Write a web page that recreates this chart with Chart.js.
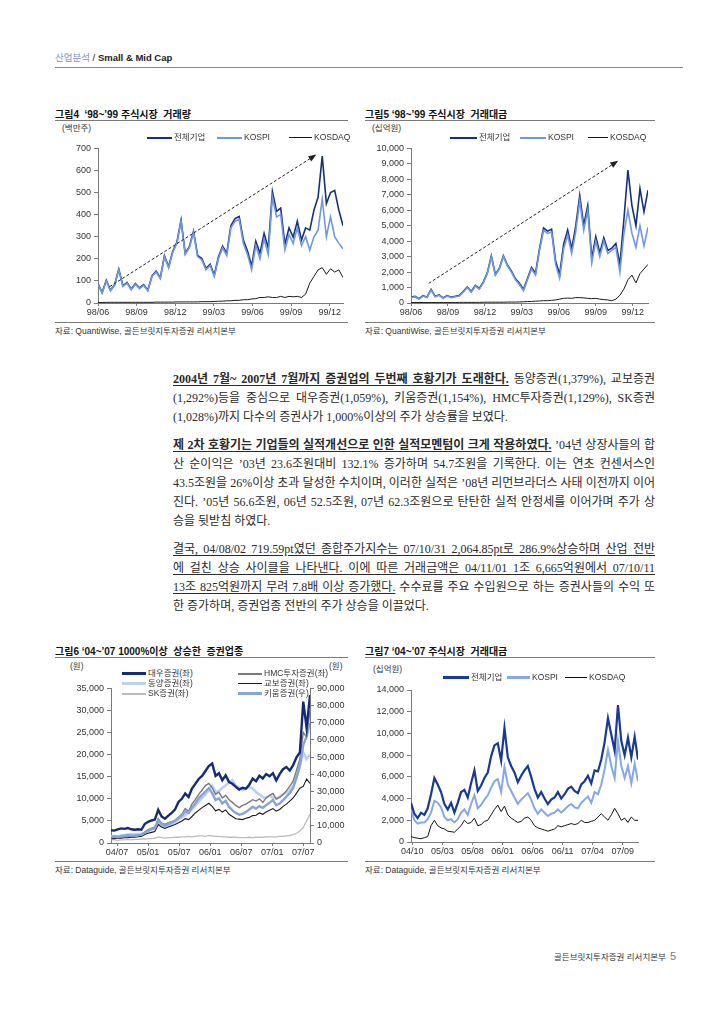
<!DOCTYPE html>
<html lang="ko">
<head>
<meta charset="utf-8">
<title>증권업종 호황기</title>
<script src="https://cdn.jsdelivr.net/npm/chart.js@4.4.1/dist/chart.umd.min.js"></script>
<style>
  body { margin:0; width:720px; height:1017px; position:relative; background:#fff; color:#222;
         font-family:"Liberation Sans", Arial, "Noto Sans CJK KR", sans-serif; overflow:hidden; }
  .abs { position:absolute; white-space:nowrap; }
  .hdr { left:55px; top:50px; font-size:9.5px; }
  .hdr .k { color:#8194c4; font-family:"Noto Sans CJK KR"; }
  .hdr .e { font-weight:bold; color:#222; }
  .rule { position:absolute; height:0; border-top:1px solid #7a7a7a; }
  .ttl { font-family:"Liberation Sans","Noto Sans CJK KR"; font-weight:bold; font-size:10px; color:#111; }
  .unit, .src, .lg { font-family:"Liberation Sans","Noto Sans CJK KR"; font-size:8.5px; color:#333; line-height:10px; }
  .lg i { display:inline-block; vertical-align:middle; margin-right:2px; }
  .body { position:absolute; left:173px; width:482px; font-family:"Liberation Serif","Noto Sans CJK KR",serif;
          font-size:12px; line-height:19px; color:#2a2a2a; }
  .body div { text-align:justify; text-align-last:justify; height:19px; overflow:visible; }
  .body div.end { text-align-last:left; }
  .body u { text-underline-offset:2px; }
  canvas { position:absolute; }
  .foot { right:44px; top:950px; font-family:"Noto Sans CJK KR"; font-size:8.5px; color:#333; }
  .foot span { font-family:"Liberation Sans"; font-size:11px; color:#777; margin-left:4px; }
</style>
</head>
<body>

<div class="abs hdr"><span class="k">산업분석</span> / <span class="e">Small &amp; Mid Cap</span></div>
<div class="rule" style="left:55px;top:67px;width:628px;border-top:1.5px solid #888"></div>

<!-- 그림4 / 그림5 -->
<div class="abs ttl" style="left:55px;top:106px">그림4 &nbsp;‘98~’99 주식시장 &nbsp;거래량</div>
<div class="rule" style="left:55px;top:120px;width:293px"></div>
<div class="abs unit" style="left:62px;top:123px">(백만주)</div>
<div class="abs ttl" style="left:365px;top:106px">그림5 ‘98~’99 주식시장 &nbsp;거래대금</div>
<div class="rule" style="left:365px;top:120px;width:290px"></div>
<div class="abs unit" style="left:372px;top:123px">(십억원)</div>

<canvas id="fig4" width="300" height="180" style="left:55px;top:140px"></canvas>
<canvas id="fig5" width="300" height="180" style="left:365px;top:140px"></canvas>
<div id="lg4"></div><div id="lg5"></div>

<div class="rule" style="left:55px;top:322px;width:293px"></div>
<div class="abs src" style="left:55px;top:326px">자료: QuantiWise, 골든브릿지투자증권 리서치본부</div>
<div class="rule" style="left:365px;top:322px;width:290px"></div>
<div class="abs src" style="left:365px;top:326px">자료: QuantiWise, 골든브릿지투자증권 리서치본부</div>

<!-- 본문 -->
<div class="body" style="top:370px">
  <div><u><b>2004년 7월~ 2007년 7월까지 증권업의 두번째 호황기가 도래한다.</b></u> 동양증권(1,379%), 교보증권</div>
  <div>(1,292%)등을 중심으로 대우증권(1,059%), 키움증권(1,154%), HMC투자증권(1,129%), SK증권</div>
  <div class="end">(1,028%)까지 다수의 증권사가 1,000%이상의 주가 상승률을 보였다.</div>
</div>
<div class="body" style="top:436px">
  <div><u><b>제 2차 호황기는 기업들의 실적개선으로 인한 실적모멘텀이 크게 작용하였다.</b></u> ’04년 상장사들의 합</div>
  <div>산 순이익은 ’03년 23.6조원대비 132.1% 증가하며 54.7조원을 기록한다. 이는 연초 컨센서스인</div>
  <div>43.5조원을 26%이상 초과 달성한 수치이며, 이러한 실적은 ’08년 리먼브라더스 사태 이전까지 이어</div>
  <div>진다. ’05년 56.6조원, 06년 52.5조원, 07년 62.3조원으로 탄탄한 실적 안정세를 이어가며 주가 상</div>
  <div class="end">승을 뒷받침 하였다.</div>
</div>
<div class="body" style="top:540px">
  <div><u>결국, 04/08/02 719.59pt였던 종합주가지수는 07/10/31 2,064.85pt로 286.9%상승하며 산업 전반</u></div>
  <div><u>에 걸친 상승 사이클을 나타낸다. 이에 따른 거래금액은 04/11/01 1조 6,665억원에서 07/10/11</u></div>
  <div><u>13조 825억원까지 무려 7.8배 이상 증가했다.</u> 수수료를 주요 수입원으로 하는 증권사들의 수익 또</div>
  <div class="end">한 증가하며, 증권업종 전반의 주가 상승을 이끌었다.</div>
</div>

<!-- 그림6 / 그림7 -->
<div class="abs ttl" style="left:55px;top:643px">그림6 ‘04~’07 1000%이상 &nbsp;상승한 &nbsp;증권업종</div>
<div class="rule" style="left:55px;top:657px;width:293px"></div>
<div class="abs unit" style="left:70px;top:661px">(원)</div>
<div class="abs unit" style="left:329px;top:661px">(원)</div>
<div class="abs ttl" style="left:365px;top:643px">그림7 ‘04~’07 주식시장 &nbsp;거래대금</div>
<div class="rule" style="left:365px;top:657px;width:290px"></div>
<div class="abs unit" style="left:373px;top:664px">(십억원)</div>

<canvas id="fig6" width="300" height="180" style="left:55px;top:680px"></canvas>
<canvas id="fig7" width="300" height="180" style="left:365px;top:680px"></canvas>
<div id="lg6"></div><div id="lg7"></div>

<div class="rule" style="left:55px;top:861px;width:293px"></div>
<div class="abs src" style="left:55px;top:865px">자료: Dataguide, 골든브릿지투자증권 리서치본부</div>
<div class="rule" style="left:365px;top:861px;width:290px"></div>
<div class="abs src" style="left:365px;top:865px">자료: Dataguide, 골든브릿지투자증권 리서치본부</div>

<div class="abs foot">골든브릿지투자증권 리서치본부<span>5</span></div>

<script>
// ---- 그림4: '98~'99 거래량 (백만주) ----
const fig4Names = ['전체기업', 'KOSPI', 'KOSDAQ'];
const fig4Total = [87,47,103,58,83,153,78,93,63,88,68,83,58,123,144,114,214,164,234,275,375,225,255,325,215,201,156,176,127,208,
                   258,225,350,382,392,285,235,168,280,225,315,248,505,415,430,265,340,298,370,285,340,330,420,480,665,450,500,510,420,350];
const fig4Kospi = [85,45,100,55,80,150,75,90,60,85,65,80,55,120,140,110,210,160,230,270,370,220,250,320,210,195,150,170,120,200,
                   250,215,340,370,380,270,220,150,260,200,290,220,480,390,400,240,310,270,340,260,300,240,300,330,470,300,390,300,270,245];
const fig4Kosdaq = [2,2,3,3,3,3,3,3,3,3,3,3,3,3,4,4,4,4,4,5,5,5,5,5,5,6,
                    6,6,7,8,8,10,10,12,12,15,15,18,20,25,25,28,25,25,30,25,30,28,30,25,40,90,120,150,160,130,155,140,150,115];
const fig4TickPos = [0, 9.3, 18.6, 27.9, 37.2, 46.5, 55.8];
const fig4TickLabels = ['98/06', '98/09', '98/12', '99/03', '99/06', '99/09', '99/12'];
const fig4Arrow = [[2.8, 74], [52.6, 672]];

// ---- 그림5: '98~'99 거래대금 (십억원) ----
const fig5Names = ['전체기업', 'KOSPI', 'KOSDAQ'];
const fig5Total = [380,430,280,480,380,880,430,530,330,480,380,430,490,740,1040,740,1140,940,1350,1950,3050,1850,2250,3050,2460,2060,1560,1270,880,1590,
                   2300,1920,3530,4850,4650,4770,2700,1850,3800,4720,3500,4950,6950,5030,6300,2880,4300,3250,4220,3400,3550,3850,2500,5400,8600,6300,5000,7400,5900,7300];
const fig5Kospi = [350,400,250,450,350,850,400,500,300,450,350,400,450,700,1000,700,1100,900,1300,1900,3000,1800,2200,3000,2400,2000,1500,1200,800,1500,
                   2200,1800,3400,4700,4500,4600,2500,1600,3500,4400,3200,4600,6600,4700,6000,2600,4000,3000,4000,3200,3400,3600,2000,4500,6000,4500,3600,5000,3700,4900];
const fig5Kosdaq = [30,30,30,30,30,30,30,30,30,30,30,30,40,40,40,40,40,40,50,50,50,50,50,50,60,60,60,70,80,90,
                    100,120,130,150,150,170,200,250,300,320,300,350,350,330,300,280,300,250,220,200,150,250,500,900,1500,1800,1300,1900,2200,2500];
const fig5TickPos = [0, 9.2, 18.4, 27.6, 36.8, 46, 55.2];
const fig5TickLabels = ['98/06', '98/09', '98/12', '99/03', '99/06', '99/09', '99/12'];
const fig5Arrow = [[4.4, 1270], [51.6, 9200]];

// ---- 그림6: '04~'07 1000%이상 상승한 증권업종 (원) ----
const fig6Names = ['대우증권(좌)', '동양증권(좌)', 'SK증권(좌)', 'HMC투자증권(좌)', '교보증권(좌)', '키움증권(우)'];
const fig6Daewoo = [2900,2800,3100,3300,3200,3400,3100,3000,3100,3000,4300,4800,5100,5300,7500,6000,5500,6200,6800,7600,
                    9300,10000,11200,10400,12300,13400,14500,15200,16300,17400,18000,15200,15800,14200,15300,13800,13400,12700,12100,12500,
                    12300,13200,14600,14000,15200,14600,15600,15100,15800,14200,15600,16700,17200,16400,17600,19400,20500,32000,26000,33500];
const fig6Dongyang = [1500,1600,1500,1700,1800,1900,2000,1900,2000,2100,2300,2800,3200,3600,4200,3800,3600,4000,4300,4800,
                      5300,5800,6300,7000,7600,8500,9300,10200,11000,12000,13000,11500,11800,12500,13000,13800,14200,13000,12600,12000,
                      12400,12700,12300,11500,11000,10400,10200,10700,10300,10000,10500,11000,11400,12000,12800,15000,17500,20500,19000,20000];
const fig6Sk = [700,700,600,700,700,800,700,800,800,900,900,1000,1000,1100,1400,1200,1100,1200,1200,1300,
                1300,1400,1400,1500,1400,1500,1600,1600,1500,1700,1600,1500,1500,1400,1400,1300,1300,1300,1200,1200,
                1200,1300,1200,1300,1300,1300,1400,1400,1400,1400,1500,1500,1600,1700,1900,2200,2700,3500,5000,6500];
const fig6Hmc = [1200,1300,1200,1400,1500,1600,1500,1600,1700,1800,2500,3000,3300,3500,5500,4500,4200,4600,4800,5200,
                 5800,6500,7800,7200,8800,9800,11000,12000,13000,13500,12500,11000,11500,10200,10800,9800,9200,8500,8000,8500,
                 8800,9300,9800,9500,10000,9200,10200,10800,11200,10000,10300,11000,11800,12800,14000,16500,19000,25000,24000,30000];
const fig6Kyobo = [1000,1000,1100,1100,1200,1200,1300,1300,1400,1500,1900,2200,2400,2600,4200,3600,3300,3600,3900,4200,
                   4600,5000,5500,5300,6000,6800,7400,8000,8500,9000,8300,7300,7600,7000,7500,6500,6000,5500,5400,5300,
                   5600,5800,6200,6300,6800,6500,7000,7400,7800,7200,7600,8300,8800,9500,10200,11300,12400,12800,14500,13500];
const fig6Kiwoom = [3500,3800,3600,4000,4200,4500,4300,4400,4600,4800,6000,7000,8000,8500,13000,11000,10000,11000,12000,13000,
                    14500,16000,18500,17500,20500,23000,26000,28000,30000,32000,29000,25000,26000,23000,24500,21000,19000,17500,16500,17000,
                    18000,19500,21000,20000,21500,20500,22000,23500,25000,22000,23000,25000,27000,29000,32000,38000,45000,57000,62000,70000];
const fig6TickPos = [1.8, 11.0, 20.2, 29.4, 38.6, 47.8, 57.0];
const fig6TickLabels = ['04/07', '05/01', '05/07', '06/01', '06/07', '07/01', '07/07'];

// ---- 그림7: '04~'07 거래대금 (십억원) ----
const fig7Names = ['전체기업', 'KOSPI', 'KOSDAQ'];
const fig7Total = [3600,2600,2200,2700,2500,3100,4400,5900,5300,4600,3500,3000,3600,2700,3600,4600,4800,4100,5400,6600,
                   4700,5200,5900,6400,7900,8900,9100,7500,10500,7800,7000,6400,5500,6100,6600,7000,6000,4900,4100,4600,
                   4000,3500,3900,4100,4600,4000,4400,4900,5100,4700,4500,5300,5600,6100,5400,6600,6500,7600,9200,11400,
                   9900,8400,12600,9300,8000,9600,7800,9700,7600];
const fig7Kospi = [3000,2000,1700,1800,1800,2100,2700,3800,3600,3200,2300,2000,2100,1800,2100,2700,3000,2500,3500,4300,
                   3100,3400,3900,4300,5000,5600,5800,4600,6900,5300,4700,4100,3500,3900,4200,4500,3900,3100,2600,3000,
                   2700,2400,2600,2700,3000,2700,3000,3300,3500,3200,3100,3600,3900,4200,3600,4600,4400,5300,6700,8500,
                   7000,5900,9300,7000,5900,7000,5400,7200,5600];
const fig7Kosdaq = [500,400,350,300,400,500,1500,2000,1500,1300,1200,1000,950,900,1200,1500,2000,1700,1800,2200,
                    1500,1600,1900,2000,2500,3000,3400,2800,3300,2500,2200,2000,1800,1900,2200,2300,2000,1500,1300,1200,
                    1100,1000,1100,1200,1500,1400,1500,1600,1700,1600,1700,2000,1800,1800,1900,2000,2300,2600,2300,2000,
                    2500,3100,2600,2000,2200,1800,2300,2000,2000];
const fig7TickPos = [0.4, 9.4, 18.4, 27.4, 36.4, 45.4, 54.4, 63.4];
const fig7TickLabels = ['04/10', '05/03', '05/08', '06/01', '06/06', '06/11', '07/04', '07/09'];

// -------------------------------------------------------------
const axisColor = '#7a7a7a';
const tickFont = { family: 'Liberation Sans', size: 9 };

function pts(values) {
    return values.map((v, i) => ({ x: i, y: v }));
}

function line(label, values, color, width, extra) {
    return Object.assign({
        label: label,
        data: pts(values),
        borderColor: color,
        backgroundColor: color,
        borderWidth: width,
        pointRadius: 0,
        tension: 0,
        fill: false
    }, extra || {});
}

function xAxis(count, tickPos, tickLabels, height) {
    return {
        type: 'linear', min: 0, max: count - 1,
        afterBuildTicks: axis => { axis.ticks = tickPos.map(v => ({ value: v })); },
        afterFit: axis => { axis.height = height; },
        ticks: { callback: (v, i) => tickLabels[i], autoSkip: false, maxRotation: 0, padding: 1, color: '#333', font: tickFont },
        grid: { drawOnChartArea: false, tickLength: 3, color: axisColor },
        border: { color: axisColor }
    };
}

function yAxis(max, step, width, position) {
    return {
        type: 'linear', position: position || 'left', min: 0, max: max,
        afterFit: axis => { axis.width = width; },
        ticks: { stepSize: step, callback: v => v.toLocaleString('en-US'), padding: 3, color: '#333', font: tickFont },
        grid: { drawOnChartArea: false, tickLength: 4, color: axisColor },
        border: { color: axisColor }
    };
}

// 점선 추세 화살표 (데이터 좌표로 지정)
const trendArrow = {
    id: 'trendArrow',
    afterDatasetsDraw(chart, args, opts) {
        if (!opts || !opts.from) return;
        const { ctx, scales: { x, y } } = chart;
        const x1 = x.getPixelForValue(opts.from[0]), y1 = y.getPixelForValue(opts.from[1]);
        const x2 = x.getPixelForValue(opts.to[0]), y2 = y.getPixelForValue(opts.to[1]);
        const a = Math.atan2(y2 - y1, x2 - x1);
        ctx.save();
        ctx.strokeStyle = '#222';
        ctx.lineWidth = 1;
        ctx.setLineDash([3, 2]);
        ctx.beginPath();
        ctx.moveTo(x1, y1);
        ctx.lineTo(x2 - 5 * Math.cos(a), y2 - 5 * Math.sin(a));
        ctx.stroke();
        ctx.setLineDash([]);
        ctx.fillStyle = '#222';
        ctx.beginPath();
        ctx.moveTo(x2, y2);
        ctx.lineTo(x2 - 8 * Math.cos(a) + 3 * Math.sin(a), y2 - 8 * Math.sin(a) - 3 * Math.cos(a));
        ctx.lineTo(x2 - 8 * Math.cos(a) - 3 * Math.sin(a), y2 - 8 * Math.sin(a) + 3 * Math.cos(a));
        ctx.closePath();
        ctx.fill();
        ctx.restore();
    }
};

function baseOptions(padding) {
    return {
        responsive: false,
        animation: false,
        devicePixelRatio: 1,
        layout: { padding: padding },
        plugins: { legend: { display: false }, tooltip: { enabled: false } }
    };
}

// legend 그리기 (HTML)
function legend(boxId, items) {
    const box = document.getElementById(boxId);
    box.innerHTML = items.map(it => `
        <div class="abs lg" style="left:${it.left}px;top:${it.top}px">
            <i style="width:${it.w}px;height:${it.h}px;background:${it.color}"></i>${it.name}
        </div>`).join('');
}

// ---- 그림4 ----
const c4 = ['#15307f', '#6f98de', '#1a1a1a'];
new Chart(document.getElementById('fig4'), {
    type: 'line',
    data: {
        datasets: [
            line(fig4Names[0], fig4Total, c4[0], 1.6, { order: 1 }),
            line(fig4Names[1], fig4Kospi, c4[1], 1.6, { order: 0 }),
            line(fig4Names[2], fig4Kosdaq, c4[2], 1, { order: 2 })
        ]
    },
    options: Object.assign(baseOptions({ top: 6, right: 12, left: 0, bottom: 0 }), {
        scales: { x: xAxis(fig4Total.length, fig4TickPos, fig4TickLabels, 17), y: yAxis(700, 100, 43) },
        plugins: { legend: { display: false }, tooltip: { enabled: false },
                   trendArrow: { from: fig4Arrow[0], to: fig4Arrow[1] } }
    }),
    plugins: [trendArrow]
});
legend('lg4', [
    { name: fig4Names[0], color: c4[0], left: 147, top: 132, w: 25, h: 2 },
    { name: fig4Names[1], color: c4[1], left: 217, top: 132, w: 25, h: 2 },
    { name: fig4Names[2], color: c4[2], left: 289, top: 132, w: 23, h: 1 }
]);

// ---- 그림5 ----
new Chart(document.getElementById('fig5'), {
    type: 'line',
    data: {
        datasets: [
            line(fig5Names[0], fig5Total, c4[0], 1.6, { order: 1 }),
            line(fig5Names[1], fig5Kospi, c4[1], 1.6, { order: 0 }),
            line(fig5Names[2], fig5Kosdaq, c4[2], 1, { order: 2 })
        ]
    },
    options: Object.assign(baseOptions({ top: 6, right: 17, left: 0, bottom: 0 }), {
        scales: { x: xAxis(fig5Total.length, fig5TickPos, fig5TickLabels, 17), y: yAxis(10000, 1000, 46) },
        plugins: { legend: { display: false }, tooltip: { enabled: false },
                   trendArrow: { from: fig5Arrow[0], to: fig5Arrow[1] } }
    }),
    plugins: [trendArrow]
});
legend('lg5', [
    { name: fig5Names[0], color: c4[0], left: 450, top: 132, w: 27, h: 2 },
    { name: fig5Names[1], color: c4[1], left: 520, top: 132, w: 26, h: 2 },
    { name: fig5Names[2], color: c4[2], left: 588, top: 132, w: 20, h: 1 }
]);

// ---- 그림6 ----
const c6 = ['#122a78', '#bcd0f2', '#bdbdbd', '#7a7a7a', '#1a1a1a', '#86a3dc'];
new Chart(document.getElementById('fig6'), {
    type: 'line',
    data: {
        datasets: [
            line(fig6Names[0], fig6Daewoo, c6[0], 2.4, { order: 0 }),
            line(fig6Names[1], fig6Dongyang, c6[1], 2.6, { order: 4 }),
            line(fig6Names[2], fig6Sk, c6[2], 1.3, { order: 5 }),
            line(fig6Names[3], fig6Hmc, c6[3], 1.4, { order: 2 }),
            line(fig6Names[4], fig6Kyobo, c6[4], 1.1, { order: 3 }),
            line(fig6Names[5], fig6Kiwoom, c6[5], 2.4, { order: 1, yAxisID: 'y2' })
        ]
    },
    options: Object.assign(baseOptions({ top: 8, right: 0, left: 0, bottom: 0 }), {
        scales: {
            x: xAxis(fig6Daewoo.length, fig6TickPos, fig6TickLabels, 17),
            y: yAxis(35000, 5000, 56),
            y2: yAxis(90000, 10000, 45, 'right')
        }
    })
});
legend('lg6', [
    { name: fig6Names[0], color: c6[0], left: 122, top: 668, w: 24, h: 3 },
    { name: fig6Names[1], color: c6[1], left: 122, top: 678, w: 24, h: 3 },
    { name: fig6Names[2], color: c6[2], left: 122, top: 688, w: 24, h: 1.5 },
    { name: fig6Names[3], color: c6[3], left: 238, top: 668, w: 24, h: 1.5 },
    { name: fig6Names[4], color: c6[4], left: 238, top: 678, w: 24, h: 1.2 },
    { name: fig6Names[5], color: c6[5], left: 238, top: 688, w: 24, h: 3 }
]);

// ---- 그림7 ----
const c7 = ['#183a94', '#86a8e6', '#111111'];
new Chart(document.getElementById('fig7'), {
    type: 'line',
    data: {
        datasets: [
            line(fig7Names[0], fig7Total, c7[0], 2.2),
            line(fig7Names[1], fig7Kospi, c7[1], 2.0),
            line(fig7Names[2], fig7Kosdaq, c7[2], 1)
        ]
    },
    options: Object.assign(baseOptions({ top: 10, right: 27, left: 0, bottom: 0 }), {
        scales: { x: xAxis(fig7Total.length, fig7TickPos, fig7TickLabels, 18), y: yAxis(14000, 2000, 46) }
    })
});
legend('lg7', [
    { name: fig7Names[0], color: c7[0], left: 443, top: 672, w: 26, h: 3 },
    { name: fig7Names[1], color: c7[1], left: 507, top: 672, w: 23, h: 3 },
    { name: fig7Names[2], color: c7[2], left: 565, top: 672, w: 22, h: 1.2 }
]);

// 본문 줄이 넘치면 자간을 줄여 한 줄에 맞춤
document.querySelectorAll('.body div').forEach(d => {
    let ls = 0;
    while (d.scrollHeight > 24 && ls > -2) {
        ls -= 0.1;
        d.style.letterSpacing = ls.toFixed(1) + 'px';
    }
});
</script>
</body>
</html>
